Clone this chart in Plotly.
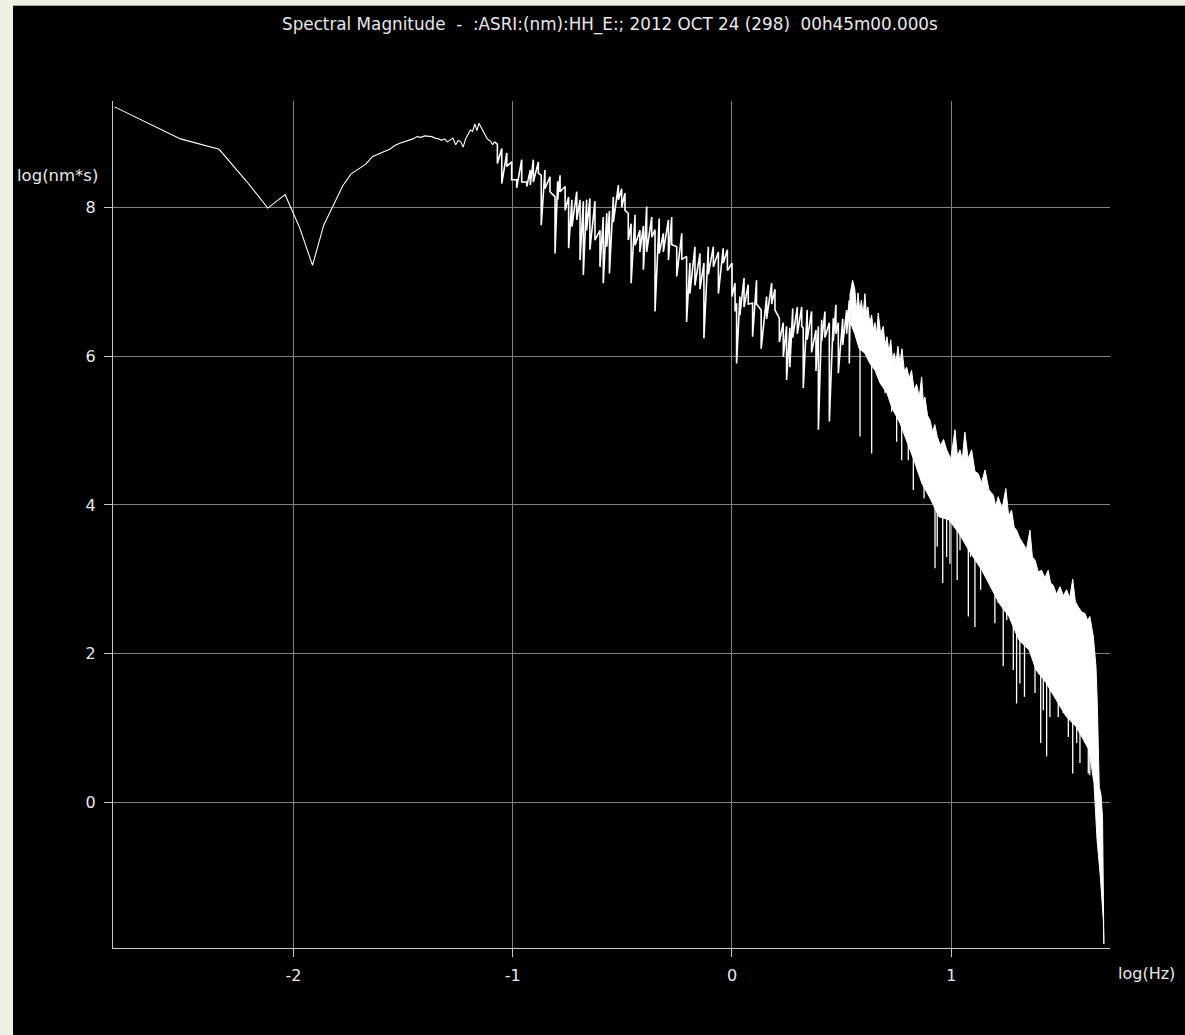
import plotly.graph_objects as go

# ---------------- data ----------------
# low-frequency part: individual spectral bins (log10 Hz, log10 nm*s)
lf_logf = [-2.816, -2.515, -2.339, -2.214, -2.117, -2.038, -1.971, -1.913, -1.862, -1.817,
           -1.775, -1.737, -1.703, -1.670, -1.640, -1.612, -1.586, -1.561, -1.538, -1.515,
           -1.494, -1.474, -1.455, -1.436, -1.419, -1.402, -1.385, -1.369, -1.354, -1.339,
           -1.325, -1.311, -1.298, -1.285, -1.273, -1.260, -1.248, -1.237, -1.226, -1.215,
           -1.204, -1.193, -1.183, -1.173, -1.163, -1.154, -1.145, -1.135, -1.126, -1.118,
           -1.109, -1.101, -1.092, -1.084]
lf_mag = [9.35, 8.92, 8.78, 8.35, 7.99, 8.17, 7.72, 7.22, 7.76, 8.03,
          8.29, 8.45, 8.52, 8.58, 8.68, 8.72, 8.75, 8.78, 8.83, 8.86,
          8.88, 8.90, 8.92, 8.95, 8.94, 8.96, 8.96, 8.95, 8.93, 8.92,
          8.90, 8.92, 8.88, 8.91, 8.93, 8.84, 8.90, 8.88, 8.81, 8.92,
          8.99, 9.04, 9.02, 9.12, 9.03, 9.13, 9.08, 9.02, 8.98, 8.93,
          8.90, 8.89, 8.84, 8.88]

# mid-frequency part: local maxima / minima read column by column
mid_logf = [-1.070, -1.050, -1.027, -1.005, -0.982, -0.959, -0.936, -0.920, -0.906, -0.883,
            -0.870, -0.853, -0.830, -0.807, -0.795, -0.784, -0.761, -0.745, -0.730, -0.708,
            -0.693, -0.678, -0.663, -0.648, -0.625, -0.602, -0.587, -0.571, -0.559, -0.541,
            -0.518, -0.503, -0.488, -0.473, -0.460, -0.442, -0.420, -0.404, -0.389, -0.366,
            -0.351, -0.332, -0.313, -0.290, -0.275, -0.252, -0.229, -0.207, -0.192, -0.169,
            -0.146, -0.128, -0.108, -0.085, -0.062, -0.040, -0.021, 0.000, 0.014, 0.021,
            0.036, 0.055, 0.074, 0.094, 0.112, 0.133, 0.158, 0.181, 0.196, 0.216,
            0.234, 0.249, 0.264, 0.277, 0.298, 0.318, 0.325, 0.343, 0.363, 0.383,
            0.394, 0.409, 0.424, 0.444, 0.462, 0.474, 0.485, 0.505, 0.523, 0.535]
mid_top = [8.85, 8.79, 8.73, 8.61, 8.37, 8.64, 8.34, 8.50, 8.64, 8.61,
           8.43, 8.50, 8.41, 8.14, 8.35, 8.43, 8.28, 8.14, 8.10, 8.21,
           8.10, 8.08, 8.10, 8.12, 8.08, 7.69, 7.87, 7.92, 7.95, 8.14,
           8.30, 8.25, 8.19, 7.92, 7.78, 7.90, 7.69, 7.75, 8.01, 7.87,
           7.70, 7.85, 7.65, 7.83, 7.87, 7.47, 7.65, 7.34, 7.25, 7.47,
           7.38, 7.25, 7.47, 7.47, 7.40, 7.45, 7.43, 7.25, 6.98, 6.71,
           6.80, 7.05, 6.96, 6.71, 7.02, 6.62, 6.80, 6.98, 6.90, 6.51,
           6.45, 6.40, 6.38, 6.64, 6.66, 6.66, 6.38, 6.62, 6.60, 6.35,
           6.40, 6.49, 6.60, 6.45, 6.51, 6.69, 6.45, 6.50, 6.62, 6.75]
mid_bot = [8.59, 8.32, 8.55, 8.37, 8.26, 8.34, 8.28, 8.30, 8.34, 8.46,
           7.76, 8.25, 8.21, 7.38, 8.10, 8.21, 7.96, 7.45, 7.74, 7.83,
           7.29, 7.09, 7.69, 7.43, 7.56, 7.20, 6.98, 7.47, 7.11, 7.80,
           8.10, 8.00, 7.96, 7.56, 6.98, 7.49, 7.40, 7.16, 7.40, 7.60,
           6.60, 7.38, 7.40, 7.29, 7.50, 7.07, 7.30, 6.46, 6.84, 6.95,
           6.90, 6.24, 7.10, 7.20, 6.84, 7.25, 7.15, 6.80, 6.60, 5.90,
           6.55, 6.66, 6.70, 6.26, 6.70, 6.10, 6.50, 6.70, 6.62, 6.19,
           5.99, 5.68, 5.85, 6.25, 6.30, 6.40, 5.57, 6.22, 6.05, 5.80,
           5.01, 6.20, 6.25, 5.12, 6.20, 6.30, 5.77, 6.15, 6.30, 5.90]

# high-frequency part: dense band (upper and lower edge)
hf_top_logf = [0.540, 0.550, 0.560, 0.568, 0.575, 0.583, 0.590, 0.598, 0.606, 0.613,
               0.620, 0.628, 0.637, 0.645, 0.652, 0.660, 0.667, 0.678, 0.690, 0.698,
               0.707, 0.716, 0.724, 0.732, 0.740, 0.748, 0.757, 0.766, 0.775, 0.786,
               0.797, 0.808, 0.819, 0.830, 0.842, 0.854, 0.865, 0.872, 0.880, 0.892,
               0.903, 0.915, 0.925, 0.936, 0.950, 0.965, 0.979, 0.998, 1.017, 1.028,
               1.040, 1.050, 1.062, 1.077, 1.093, 1.108, 1.123, 1.138, 1.154, 1.172,
               1.192, 1.203, 1.214, 1.232, 1.249, 1.262, 1.275, 1.287, 1.298, 1.313,
               1.328, 1.343, 1.359, 1.370, 1.382, 1.397, 1.412, 1.427, 1.442, 1.453,
               1.465, 1.480, 1.496, 1.511, 1.526, 1.540, 1.554, 1.566, 1.579, 1.595,
               1.610, 1.622, 1.632, 1.648, 1.660, 1.666, 1.675, 1.683, 1.690, 1.694,
               1.696]
hf_top = [6.85, 7.02, 6.90, 6.62, 6.85, 6.60, 6.75, 6.55, 6.84, 6.58,
          6.66, 6.45, 6.55, 6.35, 6.45, 6.30, 6.58, 6.30, 6.40, 6.15,
          6.26, 6.05, 6.22, 5.95, 6.04, 5.92, 6.13, 5.90, 6.10, 5.80,
          5.85, 5.70, 5.81, 5.55, 5.62, 5.45, 5.72, 5.40, 5.45, 5.20,
          5.14, 4.98, 5.08, 4.92, 4.80, 4.88, 4.74, 4.62, 5.01, 4.66,
          4.74, 4.60, 4.98, 4.62, 4.74, 4.45, 4.42, 4.30, 4.47, 4.20,
          4.13, 3.98, 4.11, 3.95, 4.22, 3.85, 3.93, 3.70, 3.66, 3.55,
          3.48, 3.40, 3.66, 3.30, 3.26, 3.10, 3.12, 3.02, 3.12, 2.95,
          2.92, 2.80, 2.90, 2.78, 2.86, 2.75, 3.00, 2.70, 2.63, 2.56,
          2.54, 2.45, 2.50, 2.23, 1.83, 1.34, 0.21, 0.10, -0.20, -1.55,
          -1.90]
hf_bot_logf = [0.540, 0.560, 0.580, 0.606, 0.629, 0.652, 0.675, 0.707, 0.730, 0.766,
               0.798, 0.830, 0.866, 0.907, 0.944, 0.989, 1.035, 1.080, 1.140, 1.172,
               1.218, 1.263, 1.309, 1.355, 1.387, 1.432, 1.478, 1.523, 1.569, 1.596,
               1.628, 1.651, 1.665, 1.680, 1.694]
hf_bot = [6.45, 6.30, 6.10, 6.04, 5.90, 5.81, 5.64, 5.50, 5.30, 5.10,
          4.85, 4.60, 4.29, 4.07, 3.84, 3.80, 3.62, 3.39, 3.12, 2.95,
          2.68, 2.50, 2.18, 2.05, 1.78, 1.61, 1.38, 1.16, 1.02, 0.88,
          0.71, 0.26, -0.50, -1.00, -1.60]

# downward spikes below the dense band
spike_logf = [0.584, 0.637, 0.698, 0.728, 0.751, 0.774, 0.804, 0.827, 0.876, 0.926,
              0.936, 0.961, 0.979, 0.994, 1.027, 1.040, 1.070, 1.078, 1.088, 1.108,
              1.123, 1.134, 1.154, 1.173, 1.199, 1.214, 1.237, 1.253, 1.283, 1.298,
              1.313, 1.328, 1.334, 1.359, 1.382, 1.408, 1.420, 1.435, 1.450, 1.473,
              1.488, 1.511, 1.534, 1.554, 1.572, 1.587, 1.610, 1.625, 1.632]
spike_base = [6.1, 5.9, 5.6, 5.4, 5.25, 5.1, 4.9, 4.7, 4.3, 4.0,
              3.95, 3.9, 3.85, 3.85, 3.7, 3.65, 3.5, 3.45, 3.4, 3.3,
              3.25, 3.2, 3.1, 3.0, 2.85, 2.75, 2.65, 2.6, 2.42, 2.32,
              2.22, 2.2, 2.17, 2.1, 1.9, 1.78, 1.72, 1.65, 1.57, 1.45,
              1.37, 1.27, 1.18, 1.12, 1.05, 0.97, 0.88, 0.8, 0.75]
spike_tip = [4.92, 4.69, 5.50, 5.25, 4.85, 4.60, 4.60, 4.20, 4.09, 3.15,
             3.44, 2.95, 3.30, 3.21, 2.99, 3.39, 3.48, 2.50, 3.30, 2.36,
             3.21, 2.86, 3.13, 3.04, 2.41, 2.68, 1.83, 2.45, 1.78, 1.33,
             1.60, 2.23, 1.42, 2.05, 1.47, 0.80, 1.24, 0.62, 1.15, 1.60,
             1.15, 1.20, 0.88, 0.39, 0.80, 0.53, 0.80, 0.39, 0.37]

x_tick_vals = [-2, -1, 0, 1]
x_tick_text = ["-2", "-1", "0", "1"]
y_tick_vals = [0, 2, 4, 6, 8]
y_tick_text = ["0", "2", "4", "6", "8"]

title_text = "Spectral Magnitude \u00a0- \u00a0:ASRI:(nm):HH_E:; 2012 OCT 24 (298) \u00a000h45m00.000s"
x_label = "log(Hz)"
y_label = "log(nm*s)"

# ---------------- figure ----------------
W, H = 1185, 1035
L, R, T, B = 113, 75, 101, 87
PW, PH = W - L - R, H - T - B


def px(xp):
    return (xp - L) / PW


def py(yp):
    return (H - B - yp) / PH


FONT = "DejaVu Sans"
TXT = "#E8E8E8"
WHITE = "#FFFFFF"

zig_x, zig_y = [lf_logf[-1]], [lf_mag[-1]]
for xv, t, b in zip(mid_logf, mid_top, mid_bot):
    zig_x += [xv, xv]
    zig_y += [t, b]
zig_x.append(hf_top_logf[0])
zig_y.append(hf_top[0])

band_x = hf_top_logf + hf_bot_logf[::-1]
band_y = hf_top + hf_bot[::-1]

sp_x, sp_y = [], []
for xv, b0, t0 in zip(spike_logf, spike_base, spike_tip):
    sp_x += [xv, xv, None]
    sp_y += [b0, t0, None]

fig = go.Figure()
fig.add_trace(go.Scatter(x=lf_logf, y=lf_mag, mode="lines",
                         line=dict(color=WHITE, width=1.1), hoverinfo="skip"))
fig.add_trace(go.Scatter(x=zig_x, y=zig_y, mode="lines",
                         line=dict(color=WHITE, width=1.6), hoverinfo="skip"))
fig.add_trace(go.Scatter(x=band_x, y=band_y, mode="lines", fill="toself",
                         fillcolor=WHITE, line=dict(color=WHITE, width=1),
                         hoverinfo="skip"))
fig.add_trace(go.Scatter(x=sp_x, y=sp_y, mode="lines",
                         line=dict(color=WHITE, width=1.3), hoverinfo="skip"))

axis_common = dict(showgrid=True, gridcolor="#808080", gridwidth=1,
                   zeroline=False, showline=True, linecolor="#C8C8C8", linewidth=1,
                   ticks="outside", ticklen=8, tickcolor="#C8C8C8", tickwidth=1,
                   tickfont=dict(family=FONT, size=16, color=TXT),
                   fixedrange=True)

fig.update_layout(
    width=W, height=H,
    margin=dict(l=L, r=R, t=T, b=B, pad=0),
    paper_bgcolor="#EEF0E1",
    plot_bgcolor="#000000",
    showlegend=False,
    xaxis=dict(range=[-2.823, 1.724], tickvals=x_tick_vals, ticktext=x_tick_text,
               ticklabelstandoff=5, **axis_common),
    yaxis=dict(range=[-1.956, 9.429], tickvals=y_tick_vals, ticktext=y_tick_text,
               ticklabelstandoff=5, **axis_common),
    shapes=[
        dict(type="rect", xref="paper", yref="paper",
             x0=px(13), x1=px(W + 5), y0=py(H + 5), y1=py(6),
             fillcolor="#000000", line=dict(width=0), layer="below"),
        dict(type="line", xref="paper", yref="paper",
             x0=px(13), x1=px(W + 5), y0=py(5.5), y1=py(5.5),
             line=dict(color="#A0A0A0", width=1), layer="below"),
    ],
    annotations=[
        dict(text=title_text, xref="paper", yref="paper", x=px(609.5), y=py(25),
             xanchor="center", yanchor="middle", showarrow=False,
             font=dict(family=FONT, size=16.8, color=TXT)),
        dict(text=y_label, xref="paper", yref="paper", x=px(100), y=py(176),
             xanchor="right", yanchor="middle", showarrow=False,
             font=dict(family=FONT, size=16.5, color=TXT)),
        dict(text=x_label, xref="paper", yref="paper", x=px(1116), y=py(974),
             xanchor="left", yanchor="middle", showarrow=False,
             font=dict(family=FONT, size=16, color=TXT)),
    ],
)

fig.write_html("out.html", config={"displayModeBar": False},
               post_script="document.body.style.margin='0';document.body.style.overflow='hidden';")
